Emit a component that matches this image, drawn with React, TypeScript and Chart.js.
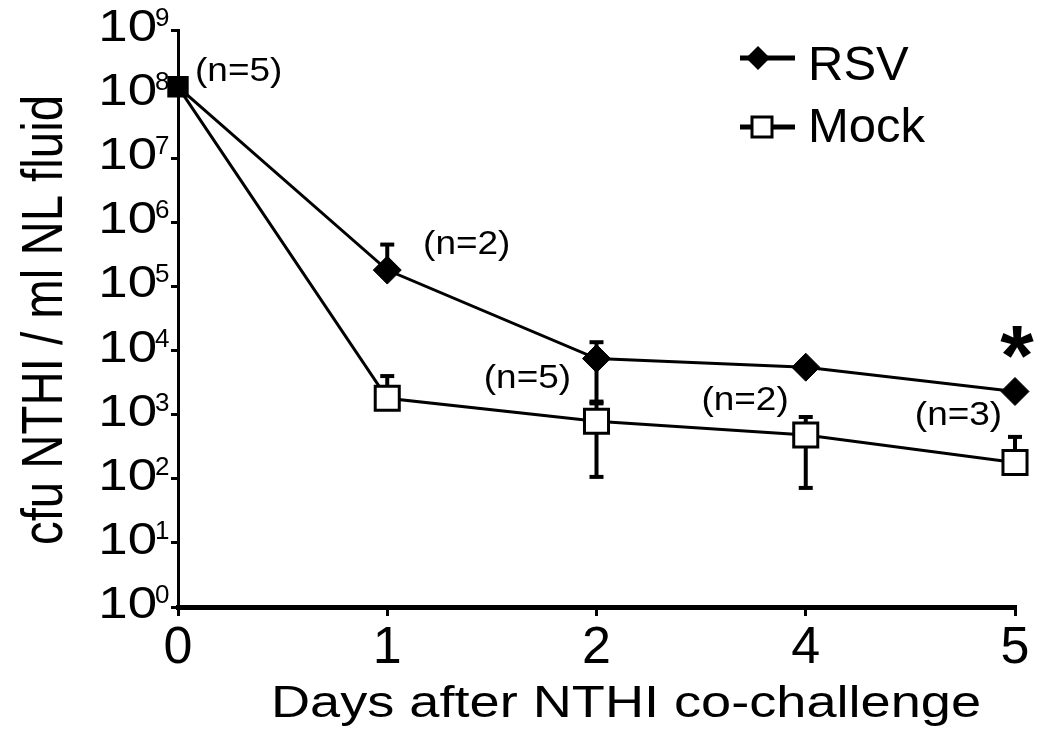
import React, { useEffect, useRef } from 'react';
import { Chart, registerables } from 'chart.js';

Chart.register(...registerables);

const FONT = '"Liberation Sans", Arial, Helvetica, sans-serif';

// ---- data ----
const days = ['0', '1', '2', '4', '5'];
const seriesNames = ['RSV', 'Mock'];
const rsvValues = [1.3e8, 1.8e5, 7.5e3, 5.5e3, 2.3e3];
const rsvErrHigh: (number | null)[] = [null, 4.5e5, 1.35e4, null, null];
const rsvErrLow: (number | null)[] = [null, null, 1.6e3, null, null];
const mockValues = [1.3e8, 1.8e3, 7.9e2, 4.8e2, 1.8e2];
const mockErrHigh: (number | null)[] = [null, 4.0e3, 1.5e3, 9.2e2, 4.5e2];
const mockErrLow: (number | null)[] = [null, null, 1.07e2, 7.2e1, null];
const yExponents = [0, 1, 2, 3, 4, 5, 6, 7, 8, 9];
const nLabels = ['(n=5)', '(n=2)', '(n=5)', '(n=2)', '(n=3)'];
const nLabelDay = [0.29, 1.38, 1.67, 2.71, 3.73];
const nLabelValue = [2.2e8, 4.3e5, 3.6e3, 1.6e3, 9.5e2];
const starText = '*';
const starDay = 4.01;
const starValue = 1.35e4;
const xTitle = 'Days after NTHI co-challenge';
const yTitle = 'cfu NTHI / ml NL fluid';

function drawCentered(ctx: CanvasRenderingContext2D, text: string, cx: number, cy: number, font: string, sx = 1) {
  ctx.save();
  ctx.font = font;
  const m = ctx.measureText(text);
  const asc = m.actualBoundingBoxAscent;
  const desc = m.actualBoundingBoxDescent;
  ctx.translate(cx, cy + (asc - desc) / 2);
  ctx.scale(sx, 1);
  ctx.textAlign = 'center';
  ctx.textBaseline = 'alphabetic';
  ctx.fillStyle = '#000';
  ctx.fillText(text, 0, 0);
  ctx.restore();
}

const errorBarPlugin = {
  id: 'errorBars',
  beforeDatasetsDraw(chart: any) {
    const ctx = chart.ctx;
    const ys = chart.scales.y;
    const sets = [
      [rsvErrLow, rsvErrHigh],
      [mockErrLow, mockErrHigh],
    ];
    sets.forEach(([lo, hi], di) => {
      const meta = chart.getDatasetMeta(di);
      meta.data.forEach((pt: any, i: number) => {
        const v = chart.data.datasets[di].data[i];
        const py = ys.getPixelForValue(v);
        [lo[i], hi[i]].forEach((b) => {
          if (b == null) return;
          const by = ys.getPixelForValue(b);
          ctx.save();
          ctx.strokeStyle = '#000';
          ctx.lineWidth = 4;
          ctx.beginPath();
          ctx.moveTo(pt.x, py);
          ctx.lineTo(pt.x, by);
          ctx.stroke();
          ctx.beginPath();
          ctx.moveTo(pt.x - 7, by);
          ctx.lineTo(pt.x + 7, by);
          ctx.stroke();
          ctx.restore();
        });
      });
    });
  },
};

const decorPlugin = {
  id: 'decor',
  afterDraw(chart: any) {
    const ctx: CanvasRenderingContext2D = chart.ctx;
    const xs = chart.scales.x;
    const ys = chart.scales.y;
    ctx.save();
    ctx.fillStyle = '#000';

    // y tick labels 10^n
    yExponents.forEach((e) => {
      const y = ys.getPixelForValue(Math.pow(10, e));
      ctx.save();
      ctx.font = `44px ${FONT}`;
      ctx.textAlign = 'right';
      ctx.textBaseline = 'alphabetic';
      ctx.translate(157, y + 11);
      ctx.scale(1.2, 1);
      ctx.fillText('10', 0, 0);
      ctx.restore();
      ctx.save();
      ctx.font = `26px ${FONT}`;
      ctx.textAlign = 'left';
      ctx.translate(155, y - 4);
      ctx.fillText(String(e), 0, 0);
      ctx.restore();
    });

    // x title
    ctx.save();
    ctx.font = `44px ${FONT}`;
    const wx = ctx.measureText(xTitle).width;
    ctx.translate(271, 717);
    ctx.scale(710 / wx, 1);
    ctx.textAlign = 'left';
    ctx.fillText(xTitle, 0, 0);
    ctx.restore();

    // y title
    ctx.save();
    ctx.font = `50px ${FONT}`;
    const wy = ctx.measureText(yTitle).width;
    ctx.translate(62, 320);
    ctx.rotate(-Math.PI / 2);
    ctx.scale(450 / wy, 1.15);
    ctx.textAlign = 'center';
    ctx.fillText(yTitle, 0, 0);
    ctx.restore();

    // annotations
    nLabels.forEach((t, i) => {
      drawCentered(ctx, t, xs.getPixelForValue(nLabelDay[i]), ys.getPixelForValue(nLabelValue[i]), `33px ${FONT}`, 1.12);
    });
    drawCentered(ctx, starText, xs.getPixelForValue(starDay), ys.getPixelForValue(starValue), `bold 86px ${FONT}`, 1);

    // legend
    const lx0 = 740, lx1 = 795;
    const rows = [58, 127];
    ctx.strokeStyle = '#000';
    rows.forEach((ry, i) => {
      ctx.lineWidth = 5;
      ctx.beginPath();
      ctx.moveTo(lx0, ry);
      ctx.lineTo(lx1, ry);
      ctx.stroke();
      if (i === 0) {
        const cx = 758, r = 12;
        ctx.fillStyle = '#000';
        ctx.beginPath();
        ctx.moveTo(cx, ry - r);
        ctx.lineTo(cx + r, ry);
        ctx.lineTo(cx, ry + r);
        ctx.lineTo(cx - r, ry);
        ctx.closePath();
        ctx.fill();
      } else {
        const cx = 762, h = 10;
        ctx.fillStyle = '#fff';
        ctx.fillRect(cx - h, ry - h, 2 * h, 2 * h);
        ctx.lineWidth = 3;
        ctx.strokeRect(cx - h, ry - h, 2 * h, 2 * h);
      }
      ctx.fillStyle = '#000';
      ctx.font = `49px ${FONT}`;
      ctx.textAlign = 'left';
      ctx.textBaseline = 'alphabetic';
      ctx.fillText(seriesNames[i], 808, i === 0 ? 80 : 142);
    });
    ctx.restore();
  },
};

export default function App() {
  const ref = useRef<HTMLCanvasElement>(null);
  useEffect(() => {
    if (!ref.current) return;
    const chart = new Chart(ref.current, {
      type: 'line',
      data: {
        labels: days,
        datasets: [
          {
            label: seriesNames[0],
            data: rsvValues,
            borderColor: '#000',
            borderWidth: 3,
            backgroundColor: '#000',
            pointStyle: 'rectRot',
            pointRadius: [0, 14, 14, 14, 14],
            pointBackgroundColor: '#000',
            pointBorderColor: '#000',
            pointBorderWidth: 1,
            tension: 0,
            clip: false as any,
          },
          {
            label: seriesNames[1],
            data: mockValues,
            borderColor: '#000',
            borderWidth: 3,
            backgroundColor: '#fff',
            pointStyle: 'rect',
            pointRadius: [13, 17, 17, 17, 17],
            pointBackgroundColor: ['#000', '#fff', '#fff', '#fff', '#fff'],
            pointBorderColor: '#000',
            pointBorderWidth: 3,
            tension: 0,
            clip: false as any,
          },
        ],
      },
      options: {
        animation: false,
        responsive: false,
        devicePixelRatio: 1,
        layout: { padding: { top: 30, right: 35, left: 0, bottom: 0 } },
        plugins: { legend: { display: false }, tooltip: { enabled: false } },
        scales: {
          x: {
            type: 'category',
            offset: false,
            grid: { display: true, drawOnChartArea: false, drawTicks: true, tickLength: 9, lineWidth: 3, color: '#000' },
            border: { display: true, width: 5, color: '#000' },
            ticks: { color: '#000', font: { family: FONT, size: 52 }, padding: 1, maxRotation: 0, autoSkip: false },
            afterFit: (s: any) => { s.height = 140; },
          },
          y: {
            type: 'logarithmic',
            min: 1,
            max: 1e9,
            grid: { display: true, drawOnChartArea: false, drawTicks: true, tickLength: 7, lineWidth: 3, color: '#000' },
            border: { display: true, width: 3, color: '#000' },
            ticks: { display: false },
            afterBuildTicks: (s: any) => {
              s.ticks = yExponents.map((e) => ({ value: Math.pow(10, e) }));
            },
            afterFit: (s: any) => { s.width = 178; },
          },
        },
      },
      plugins: [errorBarPlugin, decorPlugin],
    });
    return () => chart.destroy();
  }, []);
  return (
    <div style={{ position: 'absolute', left: 0, top: 0, width: 1050, height: 747, background: '#fff' }}>
      <canvas ref={ref} width={1050} height={747} style={{ display: 'block' }} />
    </div>
  );
}
